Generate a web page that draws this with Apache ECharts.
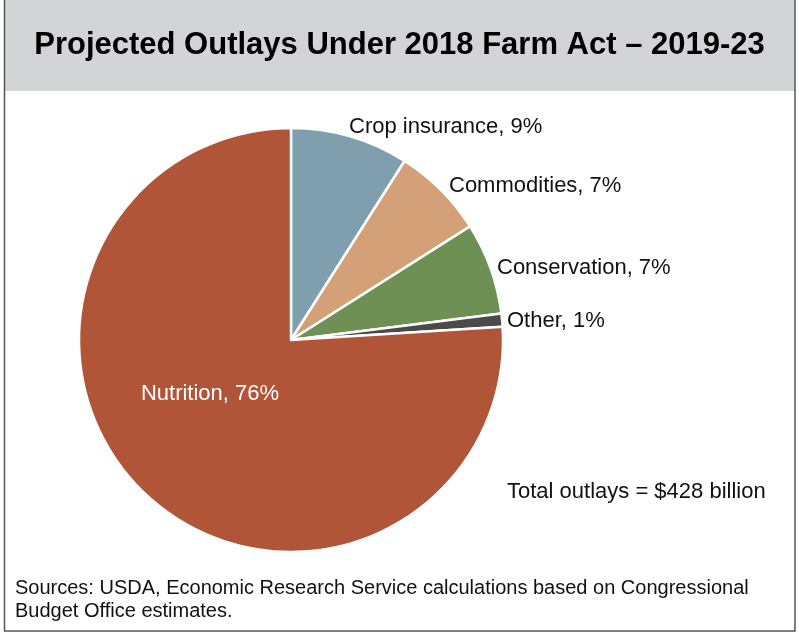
<!DOCTYPE html>
<html><head><meta charset="utf-8">
<script src="https://cdn.jsdelivr.net/npm/echarts@6/dist/echarts.min.js"></script>
<style>html,body{margin:0;padding:0;background:#fff}#c{width:799px;height:635px}</style>
</head><body><div id="c"></div>
<script>
const titleText = 'Projected Outlays Under 2018 Farm Act \u2013 2019-23';
const categories = ['Crop insurance', 'Commodities', 'Conservation', 'Other', 'Nutrition'];
const shares = [9, 7, 7, 1, 76];
const colors = ['#7f9fae', '#d4a077', '#6e9054', '#4a4a4a', '#b05538'];
const totalNote = 'Total outlays = $428 billion';
const sourceLines = ['Sources: USDA, Economic Research Service calculations based on Congressional', 'Budget Office estimates.'];

const font = '"Liberation Sans", Arial, Helvetica, sans-serif';
const chart = echarts.init(document.getElementById('c'), null, {renderer: 'canvas'});
const data = categories.map((n, i) => ({
  name: n, value: shares[i],
  itemStyle: {color: colors[i]},
  label: i === 4 ? {position: 'inside', color: '#fff'} : {}
}));
chart.setOption({
  animation: false,
  backgroundColor: '#fff',
  graphic: [
    {type: 'rect', shape: {x: 5, y: 0, width: 790, height: 91}, style: {fill: '#d3d4d6'}, z: 0},
    {type: 'rect', shape: {x: 4.5, y: -2, width: 790.5, height: 633}, style: {fill: 'none', stroke: '#555', lineWidth: 1.5}, z: 1},
    {type: 'text', left: 'center', top: 30, style: {text: titleText, font: 'bold 31px ' + font, fill: '#000'}, z: 2},
    {type: 'text', left: 507, top: 481, style: {text: totalNote, font: '22px ' + font, fill: '#111'}, z: 2},
    {type: 'text', left: 15, top: 577, style: {text: sourceLines.join('\n'), font: '20px ' + font, fill: '#111', lineHeight: 23}, z: 2}
  ],
  series: [{
    type: 'pie',
    center: [291, 340],
    radius: 212,
    startAngle: 90,
    clockwise: true,
    avoidLabelOverlap: false,
    itemStyle: {borderColor: '#fff', borderWidth: 2.5},
    label: {
      show: true, position: 'outside', formatter: '{b}, {c}%',
      fontFamily: font, fontSize: 22, color: '#111'
    },
    labelLine: {show: false, length: 8, length2: 2},
    labelLayout: function (p) {
      const pos = {
        'Crop insurance': [349, 127],
        'Commodities': [449, 186],
        'Conservation': [497, 268],
        'Other': [507, 321],
        'Nutrition': [210, 394]
      }[categories[p.dataIndex]];
      if (p.dataIndex === 4) return {x: pos[0], y: pos[1], align: 'center', verticalAlign: 'middle'};
      return {x: pos[0], y: pos[1], align: 'left', verticalAlign: 'middle'};
    },
    data: data
  }]
});
</script></body></html>
